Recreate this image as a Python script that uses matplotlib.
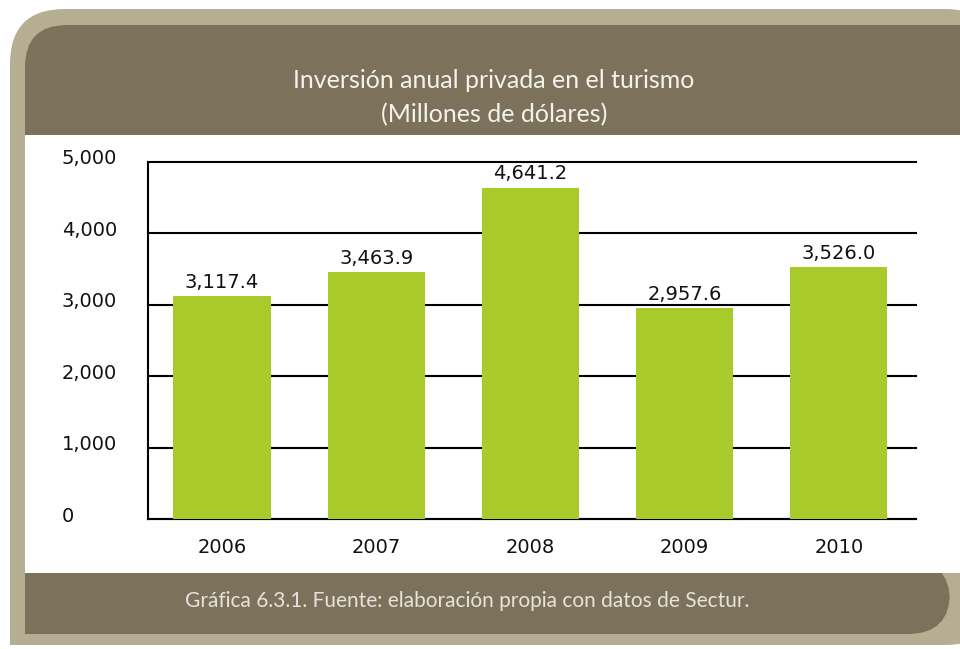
import matplotlib
matplotlib.use("Agg")
import matplotlib.pyplot as plt
from matplotlib.patches import FancyBboxPatch, Rectangle
from matplotlib.ticker import FuncFormatter
from matplotlib.transforms import ScaledTranslation

years = ["2006", "2007", "2008", "2009", "2010"]
values = [3117.4, 3463.9, 4641.2, 2957.6, 3526.0]
yticks = [0, 1000, 2000, 3000, 4000, 5000]
title_line1 = "Inversión anual privada en el turismo"
title_line2 = "(Millones de dólares)"
footer = "Gráfica 6.3.1. Fuente: elaboración propia con datos de Sectur."

TAN = "#b5ae93"
BROWN = "#7c725b"
GREEN = "#a8ca2a"
NARROW = ["Lato", "DejaVu Sans"]

fig = plt.figure(figsize=(9.6, 6.49), dpi=100)
fig.patch.set_facecolor("white")

# Decorative frame (pixel coordinates)
bg = fig.add_axes([0, 0, 1, 1])
bg.set_xlim(0, 960)
bg.set_ylim(649, 0)
bg.axis("off")

bg.add_patch(FancyBboxPatch((10, 9), 990, 636, boxstyle="round,pad=0,rounding_size=55",
                            fc=TAN, ec="none"))
bg.add_patch(Rectangle((10, 560), 100, 85, fc=TAN, ec="none"))
bg.add_patch(FancyBboxPatch((25, 25), 990, 110, boxstyle="round,pad=0,rounding_size=42",
                            fc=BROWN, ec="none"))
bg.add_patch(Rectangle((25, 90), 80, 45, fc=BROWN, ec="none"))
bg.add_patch(FancyBboxPatch((25, 560), 925, 74, boxstyle="round,pad=0,rounding_size=42",
                            fc=BROWN, ec="none"))
bg.add_patch(Rectangle((25, 560), 80, 74, fc=BROWN, ec="none"))
bg.add_patch(Rectangle((25, 135), 940, 438, fc="white", ec="none"))

bg.text(494, 80, title_line1, ha="center", va="center",
        color="#f4f2ec", fontsize=18, family=NARROW)
bg.text(494, 115, title_line2, ha="center", va="center",
        color="#f4f2ec", fontsize=18, family=NARROW)
bg.text(467, 601, footer, ha="center", va="center", color="#e6e3da",
        fontsize=15, family=NARROW)

# Chart axes
ax = fig.add_axes([148 / 960, 1 - 519 / 649, 768 / 960, 357 / 649])
ax.set_facecolor("none")
x = list(range(len(years)))
bars = ax.bar(x, values, width=0.63, color=GREEN, zorder=3)
ax.set_xlim(-0.48, 4.5)
ax.set_ylim(0, 5000)
ax.set_yticks(yticks)
ax.yaxis.set_major_formatter(FuncFormatter(lambda v, p: f"{v:,.0f}"))
ax.set_xticks(x)
ax.set_xticklabels(years)
ax.grid(axis="y", color="black", linewidth=1.5, zorder=1)
ax.set_axisbelow(True)
for gl in ax.get_ygridlines():
    gl.set_clip_on(False)
for s in ["top", "right"]:
    ax.spines[s].set_visible(False)
ax.spines["left"].set_linewidth(1.5)
ax.spines["bottom"].set_linewidth(1.5)
ax.tick_params(axis="both", length=0, labelsize=14, colors="#111111")
ax.tick_params(axis="y", pad=62)
shift = ScaledTranslation(0, 3 / 100, fig.dpi_scale_trans)
for lab in ax.get_yticklabels():
    lab.set_horizontalalignment("left")
    lab.set_verticalalignment("center")
    lab.set_transform(lab.get_transform() + shift)
ax.tick_params(axis="x", pad=14)

for b, v in zip(bars, values):
    ax.annotate(f"{v:,.1f}", (b.get_x() + b.get_width() / 2, v),
                xytext=(0, 3), textcoords="offset points",
                ha="center", va="bottom", fontsize=14, color="#111111")

fig.savefig("out.png", dpi=100)
